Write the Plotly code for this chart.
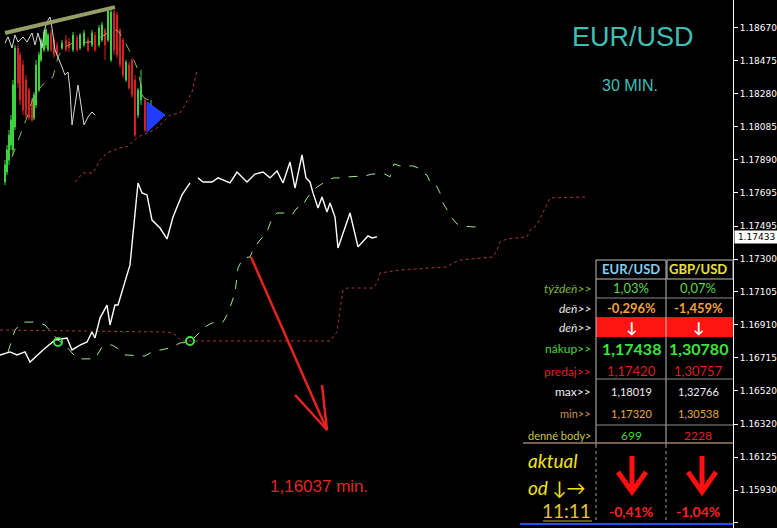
import plotly.graph_objects as go

# ---------------- data ----------------
tick_vals = [1.18670, 1.18475, 1.18280, 1.18085, 1.17890, 1.17695, 1.17495, 1.17300,
             1.17105, 1.16910, 1.16715, 1.16520, 1.16320, 1.16125, 1.15930, 1.15735]
tick_text = ["%.5f" % v for v in tick_vals]
current_price = 1.17433
y_range = [1.15705, 1.18836]
x_range = [0, 733]

# candles (bar position, OHLC)
cx = [5, 7, 9, 11, 13, 15, 18, 20, 23, 26, 29, 32, 34, 36, 39, 41, 44, 46, 48, 51, 54, 57,
      62, 66, 69, 73, 77, 80, 84, 88, 92, 95, 99, 102, 105, 108, 111, 114, 117, 120, 123,
      126, 129, 132, 135, 138, 141, 145, 148, 151, 154]
c_open = [1.17757, 1.17816, 1.17887, 1.17976, 1.17947, 1.18083, 1.18551, 1.18510, 1.18451,
          1.18362, 1.18302, 1.18243, 1.18136, 1.18213, 1.18302, 1.18480, 1.18540, 1.18569,
          1.18540, 1.18640, 1.18599, 1.18569, 1.18551, 1.18599, 1.18587, 1.18540, 1.18611,
          1.18551, 1.18569, 1.18599, 1.18569, 1.18628, 1.18569, 1.18599, 1.18658, 1.18599,
          1.18480, 1.18765, 1.18747, 1.18658, 1.18599, 1.18362, 1.18451, 1.18480, 1.18362,
          1.18154, 1.18243, 1.18243, 1.18095, 1.18136, 1.18172]
c_high = [1.17887, 1.17976, 1.18065, 1.18154, 1.18362, 1.18569, 1.18569, 1.18528, 1.18480,
          1.18391, 1.18314, 1.18255, 1.18290, 1.18480, 1.18528, 1.18611, 1.18658, 1.18670,
          1.18640, 1.18658, 1.18611, 1.18587, 1.18599, 1.18628, 1.18611, 1.18646, 1.18628,
          1.18640, 1.18658, 1.18617, 1.18658, 1.18646, 1.18688, 1.18706, 1.18670, 1.18794,
          1.18789, 1.18777, 1.18765, 1.18670, 1.18611, 1.18480, 1.18468, 1.18492, 1.18391,
          1.18314, 1.18421, 1.18255, 1.18213, 1.18243, 1.18196]
c_low = [1.17739, 1.17798, 1.17858, 1.17947, 1.17917, 1.18065, 1.18314, 1.18213, 1.18154,
         1.18136, 1.18124, 1.18113, 1.18124, 1.18196, 1.18290, 1.18468, 1.18528, 1.18551,
         1.18528, 1.18528, 1.18492, 1.18504, 1.18540, 1.18528, 1.18528, 1.18528, 1.18528,
         1.18540, 1.18557, 1.18528, 1.18557, 1.18528, 1.18557, 1.18587, 1.18480, 1.18587,
         1.18468, 1.18510, 1.18492, 1.18433, 1.18373, 1.18350, 1.18302, 1.18255, 1.18024,
         1.18136, 1.18213, 1.18053, 1.18077, 1.18124, 1.18113]
c_close = [1.17858, 1.17947, 1.18035, 1.18124, 1.18332, 1.18551, 1.18344, 1.18243, 1.18184,
           1.18154, 1.18136, 1.18124, 1.18273, 1.18451, 1.18510, 1.18599, 1.18646, 1.18658,
           1.18628, 1.18540, 1.18510, 1.18522, 1.18581, 1.18540, 1.18551, 1.18628, 1.18540,
           1.18628, 1.18640, 1.18540, 1.18640, 1.18540, 1.18670, 1.18688, 1.18569, 1.18777,
           1.18765, 1.18540, 1.18510, 1.18451, 1.18391, 1.18468, 1.18314, 1.18273, 1.18035,
           1.18302, 1.18332, 1.18065, 1.18184, 1.18213, 1.18124]

# main white price line
white_x = [0, 10, 17, 25, 30, 43, 55, 67, 72, 80, 87, 92, 95, 100, 107, 110, 115, 118, 130,
           138, 142, 147, 152, 160, 167, 173, 182, 190, None, 198, 203, 212, 218, 230, 237,
           247, 255, 263, 270, 277, 283, 290, 295, 302, 306, 310, 313, 318, 322, 327, 330,
           335, 338, 350, 358, 368, 372, 377]
white_y = [1.16731, 1.16749, 1.16731, 1.16749, 1.16689, 1.16761, 1.16820, 1.16832, 1.16761,
           1.16790, 1.16808, 1.16867, 1.16832, 1.16950, 1.17027, 1.16909, 1.17027, 1.17027,
           1.17265, 1.17751, 1.17692, 1.17680, 1.17531, 1.17484, 1.17419, 1.17549, 1.17680,
           1.17751, None, 1.17781, 1.17757, 1.17757, 1.17781, 1.17751, 1.17816, 1.17757,
           1.17804, 1.17816, 1.17781, 1.17822, 1.17751, 1.17875, 1.17721, 1.17917, 1.17781,
           1.17757, 1.17692, 1.17603, 1.17668, 1.17579, 1.17632, 1.17549, 1.17366, 1.17573,
           1.17372, 1.17437, 1.17425, 1.17431]

# small grey line (top-left)
grey_x = [5, 8, 12, 15, 18, 23, 27, 32, 35, 38, 42, 45, 48, 50, 52, 55, 60, 65, 68, 70, 72,
          78, 84, 88, 92, 95]
grey_y = [1.18581, 1.18617, 1.18552, 1.18629, 1.18587, 1.18617, 1.18587, 1.18640, 1.18569,
          1.18640, 1.18552, 1.18670, 1.18717, 1.18735, 1.18670, 1.18540, 1.18468, 1.18391,
          1.18409, 1.18302, 1.18095, 1.18332, 1.18095, 1.18142, 1.18172, 1.18154]

# trend line
trend_x = [5, 115]
trend_y = [1.18640, 1.18794]

# green dashed (top-left)
g1_x = [12, 20, 27, 33, 40, 47, 53, 58, 63, 73, 90, 105, 110, 117, 123, 128, 133, 138, 143,
        148, 157]
g1_y = [1.17906, 1.18035, 1.18142, 1.18255, 1.18314, 1.18362, 1.18380, 1.18498, 1.18552,
        1.18581, 1.18587, 1.18629, 1.18658, 1.18658, 1.18611, 1.18552, 1.18492, 1.18421,
        1.18261, 1.18243, 1.18243]

# green dashed (main)
g2_x = [8, 10, 15, 22, 37, 45, 52, 58, 67, 72, 78, 95, 102, 107, 112, 120, 125, 145, 152,
        160, 170, 180, 190, 200, 205, 212, 223, 228, 235, 238, 243, 250, 253, 260, 267, 272,
        277, 287, 292, 297, 302, 307, 312, 317, 325, 333, 340, 348, 365, 372, 385, 390, 394,
        400, 413, 418, 423, 427, 430, 435, 440, 443, 447, 452, 457, 463, 473, 482]
g2_y = [1.16749, 1.16790, 1.16879, 1.16926, 1.16926, 1.16909, 1.16861, 1.16820, 1.16779,
        1.16743, 1.16708, 1.16708, 1.16779, 1.16790, 1.16790, 1.16761, 1.16731, 1.16725,
        1.16749, 1.16761, 1.16773, 1.16802, 1.16808, 1.16867, 1.16897, 1.16921, 1.16926,
        1.16980, 1.17099, 1.17247, 1.17306, 1.17312, 1.17354, 1.17413, 1.17460, 1.17543,
        1.17573, 1.17573, 1.17561, 1.17603, 1.17609, 1.17662, 1.17698, 1.17727, 1.17757,
        1.17781, 1.17781, 1.17787, 1.17793, 1.17804, 1.17804, 1.17787, 1.17864, 1.17852,
        1.17852, 1.17840, 1.17810, 1.17798, 1.17757, 1.17751, 1.17692, 1.17632, 1.17591,
        1.17543, 1.17508, 1.17496, 1.17490, 1.17496]

# dark red dotted (top-left)
r1_x = [75, 83, 93, 100, 107, 120, 127, 138, 147, 157, 163, 170, 180, 185, 192, 197]
r1_y = [1.17757, 1.17810, 1.17810, 1.17887, 1.17929, 1.17959, 1.17965, 1.18024, 1.18047,
        1.18077, 1.18112, 1.18154, 1.18166, 1.18213, 1.18290, 1.18421]

# dark red dotted (main)
r2_x = [0, 167, 173, 182, 330, 337, 340, 343, 347, 373, 377, 380, 400, 447, 453, 460, 493,
        497, 500, 507, 527, 530, 537, 543, 550, 587]
r2_y = [1.16879, 1.16867, 1.16861, 1.16814, 1.16814, 1.16867, 1.16998, 1.17116, 1.17128,
        1.17128, 1.17158, 1.17217, 1.17235, 1.17253, 1.17277, 1.17294, 1.17312, 1.17354,
        1.17401, 1.17419, 1.17431, 1.17472, 1.17502, 1.17579, 1.17662, 1.17668]

# blue triangle (top-left)
tri_x = [147, 165, 147, 147]
tri_y = [1.18231, 1.18154, 1.18053, 1.18231]

# green circle markers
mark_x = [58, 190]
mark_y = [1.16808, 1.16814]

# red drawn arrow (start, tip, arm ends)
arrow_x = [251, 327, None, 295, 327, 322]
arrow_y = [1.17312, 1.16286, None, 1.16494, 1.16286, 1.16553]

# table content
pairs = ["EUR/USD", "GBP/USD"]
row_labels = ["týždeň>>", "deň>>", "deň>>", "nákup>>", "predaj>>", "max>>", "min>>", "denné body>"]
eur_vals = ["1,03%", "-0,296%", "↓", "1,17438", "1,17420", "1,18019", "1,17320", "699"]
gbp_vals = ["0,07%", "-1,459%", "↓", "1,30780", "1,30757", "1,32766", "1,30538", "2228"]
aktual_vals = ["-0,41%", "-1,04%"]
aktual_time = "11:11"

# ---------------- figure ----------------
W_PLOT, H_PLOT = 733, 528


def X(p):
    return p / W_PLOT


def Y(p):
    return 1 - p / H_PLOT


def note(px, py, text, font, xanchor="center", **kw):
    d = dict(x=X(px), y=Y(py), xref="paper", yref="paper", text=text, showarrow=False,
             xanchor=xanchor, yanchor="middle", font=font)
    d.update(kw)
    return d


fig = go.Figure()

fig.add_trace(go.Scatter(x=tri_x, y=tri_y, mode="lines", fill="toself",
                         fillcolor="#1f3cff", line=dict(color="#2a48ff", width=1),
                         hoverinfo="skip"))

fig.add_trace(go.Candlestick(x=cx, open=c_open, high=c_high, low=c_low, close=c_close,
                             increasing=dict(line=dict(color="#3fd23f", width=1), fillcolor="#3fd23f"),
                             decreasing=dict(line=dict(color="#d42020", width=1), fillcolor="#d42020"),
                             whiskerwidth=0))

fig.add_trace(go.Scatter(x=g1_x, y=g1_y, mode="lines",
                         line=dict(color="#88b860", width=1, dash="dash")))
fig.add_trace(go.Scatter(x=g2_x, y=g2_y, mode="lines",
                         line=dict(color="#a4e48a", width=1, dash="dash")))
fig.add_trace(go.Scatter(x=r1_x, y=r1_y, mode="lines",
                         line=dict(color="#a83838", width=1, dash="3px,3px")))
fig.add_trace(go.Scatter(x=r2_x, y=r2_y, mode="lines",
                         line=dict(color="#a83838", width=1, dash="3px,3px")))
fig.add_trace(go.Scatter(x=grey_x, y=grey_y, mode="lines",
                         line=dict(color="#d8d8d8", width=1)))
fig.add_trace(go.Scatter(x=white_x, y=white_y, mode="lines", connectgaps=False,
                         line=dict(color="#ffffff", width=1.4)))
fig.add_trace(go.Scatter(x=trend_x, y=trend_y, mode="lines",
                         line=dict(color="#979d66", width=4)))
fig.add_trace(go.Scatter(x=mark_x, y=mark_y, mode="markers",
                         marker=dict(symbol="circle-open", size=8, color="#3fe03f",
                                     line=dict(width=2, color="#3fe03f"))))
fig.add_trace(go.Scatter(x=arrow_x, y=arrow_y, mode="lines",
                         line=dict(color="#e42222", width=2.5)))

ann = []
# title
ann.append(note(633, 37, "EUR/USD", dict(family="Liberation Sans", size=27, color="#3fbfb3")))
ann.append(note(630, 86, "30 MIN.", dict(family="Liberation Sans", size=16, color="#3fbfb3")))
ann.append(note(319, 486, "1,16037 min.", dict(family="Liberation Sans", size=17, color="#e02525")))

TF = "Lato"
col_x = [631, 698]
hdr_colors = ["#86cdf0", "#ece13c"]
for i in range(2):
    ann.append(note(col_x[i], 269, "<b>%s</b>" % pairs[i], dict(family=TF, size=13, color=hdr_colors[i])))

row_y = [288, 308, 327, 348, 371, 391, 413, 435]
label_colors = ["#7db83e", "#e8e8e8", "#e8e8e8", "#48d43c", "#e01e1e", "#f0f0f0", "#c8925a", "#c8c840"]
label_italic = [True, True, True, False, False, False, False, False]
label_sizes = [12, 12, 12, 12, 12, 12, 11, 11]
eur_colors = ["#5ed84a", "#f0a040", "#ffffff", "#3ee43a", "#dc1e1e", "#f0f0f0", "#e8a838", "#40d840"]
gbp_colors = ["#5ed84a", "#f0a040", "#ffffff", "#3ee43a", "#dc1e1e", "#f0f0f0", "#e8a838", "#e82020"]
val_sizes = [13, 13, 15, 16, 13, 11, 11, 12]
val_bold = [False, True, True, True, False, False, False, False]
for r in range(len(row_labels)):
    lt = row_labels[r]
    if label_italic[r]:
        lt = "<i>%s</i>" % lt
    ann.append(note(593, row_y[r], lt, dict(family=TF, size=label_sizes[r], color=label_colors[r]),
                    xanchor="right"))
    for i, (vals, cols) in enumerate([(eur_vals, eur_colors), (gbp_vals, gbp_colors)]):
        t = vals[r]
        if val_bold[r]:
            t = "<b>%s</b>" % t
        ann.append(note(col_x[i], row_y[r], t, dict(family=TF, size=val_sizes[r], color=cols[r])))

ann.append(note(526, 460, "<i>aktual</i>", dict(family=TF, size=19, color="#f2e21e"), xanchor="left"))
ann.append(note(526, 487, "<i>od ↓→</i>", dict(family=TF, size=19, color="#f2e21e"), xanchor="left"))
ann.append(note(593, 510, aktual_time, dict(family=TF, size=19, color="#e3c23a"), xanchor="right"))
for i in range(2):
    ann.append(note(col_x[i], 511, "<b>%s</b>" % aktual_vals[i], dict(family=TF, size=14, color="#ff2020")))

# current price label
ann.append(dict(x=X(734), y=current_price, xref="paper", yref="y", text="1.17433", xanchor="left",
                yanchor="middle", showarrow=False, bgcolor="#ffffff", borderpad=1, width=41,
                font=dict(family="DejaVu Sans", size=9, color="#000000")))

shapes = []
line_c = "#bdbdbd"
shapes.append(dict(type="rect", xref="paper", yref="paper", x0=X(596), x1=X(666), y0=Y(279), y1=Y(260),
                   line=dict(color=line_c, width=1)))
shapes.append(dict(type="rect", xref="paper", yref="paper", x0=X(667), x1=X(733), y0=Y(279), y1=Y(260),
                   line=dict(color=line_c, width=1)))
shapes.append(dict(type="rect", xref="paper", yref="paper", x0=X(596), x1=X(733), y0=Y(337), y1=Y(317),
                   line=dict(width=0), fillcolor="#ff1414", layer="below"))
for vx in [596, 666]:
    shapes.append(dict(type="line", xref="paper", yref="paper", x0=X(vx), x1=X(vx), y0=Y(279), y1=Y(445),
                       line=dict(color=line_c, width=1)))
    shapes.append(dict(type="line", xref="paper", yref="paper", x0=X(vx), x1=X(vx), y0=Y(445), y1=Y(522),
                       line=dict(color="#9a9a9a", width=1, dash="dot")))
for hy in [298, 379, 425]:
    shapes.append(dict(type="line", xref="paper", yref="paper", x0=X(596), x1=X(733), y0=Y(hy), y1=Y(hy),
                       line=dict(color="#8c8c8c", width=1)))
shapes.append(dict(type="line", xref="paper", yref="paper", x0=X(523), x1=X(733), y0=Y(443), y1=Y(443),
                   line=dict(color="#9a8060", width=1.5)))
shapes.append(dict(type="line", xref="paper", yref="paper", x0=X(543), x1=X(592), y0=Y(521), y1=Y(521),
                   line=dict(color="#d0b040", width=1)))
shapes.append(dict(type="line", xref="paper", yref="paper", x0=X(520), x1=X(733), y0=Y(524), y1=Y(524),
                   line=dict(color="#1f50ff", width=2)))
for ax in [632, 702]:
    shapes.append(dict(type="line", xref="paper", yref="paper", x0=X(ax), x1=X(ax), y0=Y(456), y1=Y(490),
                       line=dict(color="#ff1010", width=5)))
    shapes.append(dict(type="path", xref="paper", yref="paper",
                       path="M %f %f L %f %f L %f %f" % (X(ax - 14), Y(472), X(ax), Y(492), X(ax + 14), Y(472)),
                       line=dict(color="#ff1010", width=5)))

fig.update_layout(
    width=777, height=528,
    margin=dict(l=0, r=44, t=0, b=0, pad=0),
    paper_bgcolor="#000000", plot_bgcolor="#000000",
    showlegend=False,
    annotations=ann, shapes=shapes,
    xaxis=dict(range=x_range, visible=False, rangeslider=dict(visible=False), fixedrange=True),
    yaxis=dict(range=y_range, side="right", showgrid=False, zeroline=False,
               tickvals=tick_vals, ticktext=tick_text, ticks="outside", ticklen=4,
               tickcolor="#ffffff", showline=True, linecolor="#ffffff", linewidth=1,
               tickfont=dict(family="DejaVu Sans", size=9, color="#ffffff"), automargin=False),
)

fig.write_html("out.html", config={"displayModeBar": False},
               post_script="document.body.style.margin='0';document.body.style.overflow='hidden';")
